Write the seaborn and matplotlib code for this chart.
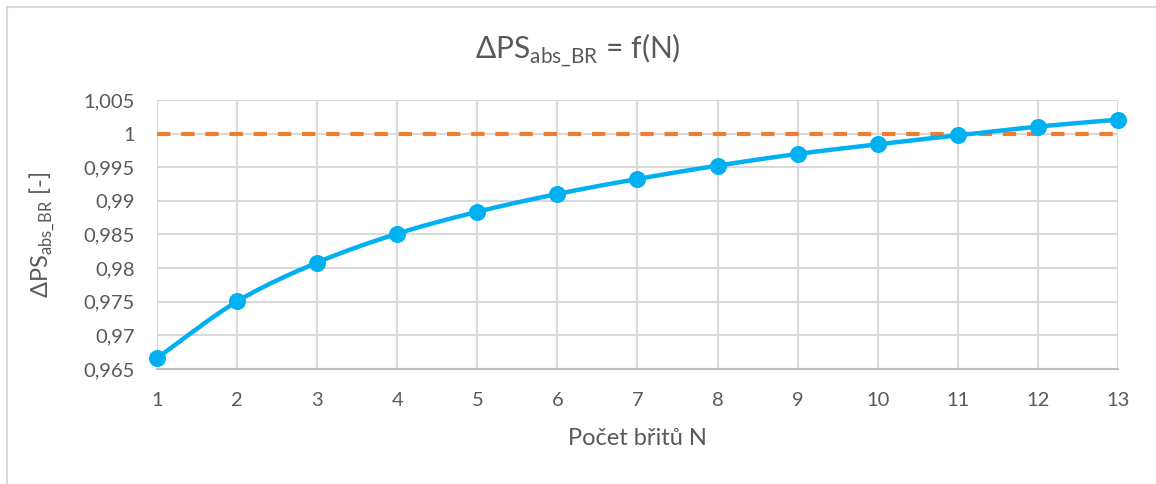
import numpy as np
import pandas as pd
import matplotlib
matplotlib.use("Agg")
import matplotlib.pyplot as plt
import seaborn as sns
from matplotlib.patches import Rectangle
from matplotlib.ticker import FuncFormatter, MultipleLocator

# Data
n_values = [1, 2, 3, 4, 5, 6, 7, 8, 9, 10, 11, 12, 13]
dps_values = [0.96663, 0.97505, 0.98083, 0.98512, 0.98838, 0.99103, 0.99326,
              0.99524, 0.99698, 0.99841, 0.99975, 1.00104, 1.00208]
reference_values = [1.0] * 13

title_text = r"ΔPS$_{\mathregular{abs\_BR}}$ = f(N)"
xlabel_text = "Počet břitů N"
ylabel_text = r"ΔPS$_{\mathregular{abs\_BR}}$ [-]"

BLUE = "#00B0F0"
ORANGE = "#ED7D31"
GRID = "#D9D9D9"
TEXT = "#595959"


def smooth_curve(x, y, steps=30):
    """Catmull-Rom spline through the points, like a spreadsheet smoothed line."""
    x = np.asarray(x, float)
    y = np.asarray(y, float)
    px = np.concatenate([[2 * x[0] - x[1]], x, [2 * x[-1] - x[-2]]])
    py = np.concatenate([[2 * y[0] - y[1]], y, [2 * y[-1] - y[-2]]])
    xs, ys = [], []
    t = np.linspace(0, 1, steps, endpoint=False)
    for i in range(1, len(px) - 2):
        p0, p1, p2, p3 = py[i - 1], py[i], py[i + 1], py[i + 2]
        q0, q1, q2, q3 = px[i - 1], px[i], px[i + 1], px[i + 2]
        for arr, a0, a1, a2, a3 in ((ys, p0, p1, p2, p3), (xs, q0, q1, q2, q3)):
            arr.extend(0.5 * ((2 * a1) + (-a0 + a2) * t
                              + (2 * a0 - 5 * a1 + 4 * a2 - a3) * t ** 2
                              + (-a0 + 3 * a1 - 3 * a2 + a3) * t ** 3))
    xs.append(x[-1])
    ys.append(y[-1])
    return np.array(xs), np.array(ys)


sns.set_theme(style="white")
plt.rcParams["font.family"] = ["Lato", "DejaVu Sans"]
plt.rcParams["mathtext.fontset"] = "custom"
plt.rcParams["mathtext.rm"] = "Lato"

fig = plt.figure(figsize=(11.56, 4.84), dpi=100)
ax = fig.add_axes([157 / 1156, 1 - 369 / 484, (1118 - 157) / 1156, (369 - 100) / 484])

# Outer chart frame
fig.patches.append(Rectangle((7 / 1156, -0.1), 1.2, 1 - 7 / 484 + 0.1,
                             transform=fig.transFigure, fill=False,
                             edgecolor="#D9D9D9", linewidth=1.5, zorder=0))

df = pd.DataFrame({"N": n_values, "dps": dps_values, "ref": reference_values})
sx, sy = smooth_curve(n_values, dps_values)
curve = pd.DataFrame({"N": sx, "dps": sy})

sns.lineplot(data=df, x="N", y="ref", ax=ax, color=ORANGE, linewidth=3,
             linestyle=(0, (3.2, 2.6)), zorder=3)
sns.lineplot(data=curve, x="N", y="dps", ax=ax, color=BLUE, linewidth=3.2,
             zorder=4, sort=False)
sns.scatterplot(data=df, x="N", y="dps", ax=ax, color=BLUE, s=150,
                edgecolor=BLUE, linewidth=0, zorder=5, clip_on=False)

ax.set_xlim(1, 13)
ax.set_ylim(0.965, 1.005)
ax.xaxis.set_major_locator(MultipleLocator(1))
ax.yaxis.set_major_locator(MultipleLocator(0.005))
ax.yaxis.set_major_formatter(FuncFormatter(
    lambda v, _: ("%.3f" % v).rstrip("0").rstrip(".").replace(".", ",")))
ax.xaxis.set_major_formatter(FuncFormatter(lambda v, _: "%d" % round(v)))

ax.grid(True, color=GRID, linewidth=1.5)
ax.set_axisbelow(True)
for side in ("top", "right", "left"):
    ax.spines[side].set_visible(False)
ax.spines["bottom"].set_color("#BFBFBF")
ax.spines["bottom"].set_linewidth(1.5)
ax.tick_params(axis="both", length=0, labelsize=14.5, labelcolor=TEXT)
ax.tick_params(axis="x", pad=16.5)
ax.tick_params(axis="y", pad=16)

ax.set_xlabel(xlabel_text, fontsize=17, color=TEXT, labelpad=14)
ax.set_ylabel(ylabel_text, fontsize=17, color=TEXT, labelpad=19)
fig.text(0.5, 1 - 50 / 484, title_text, ha="center", va="center",
         fontsize=21.5, color=TEXT)

fig.savefig("out.png", dpi=100, facecolor="white")
